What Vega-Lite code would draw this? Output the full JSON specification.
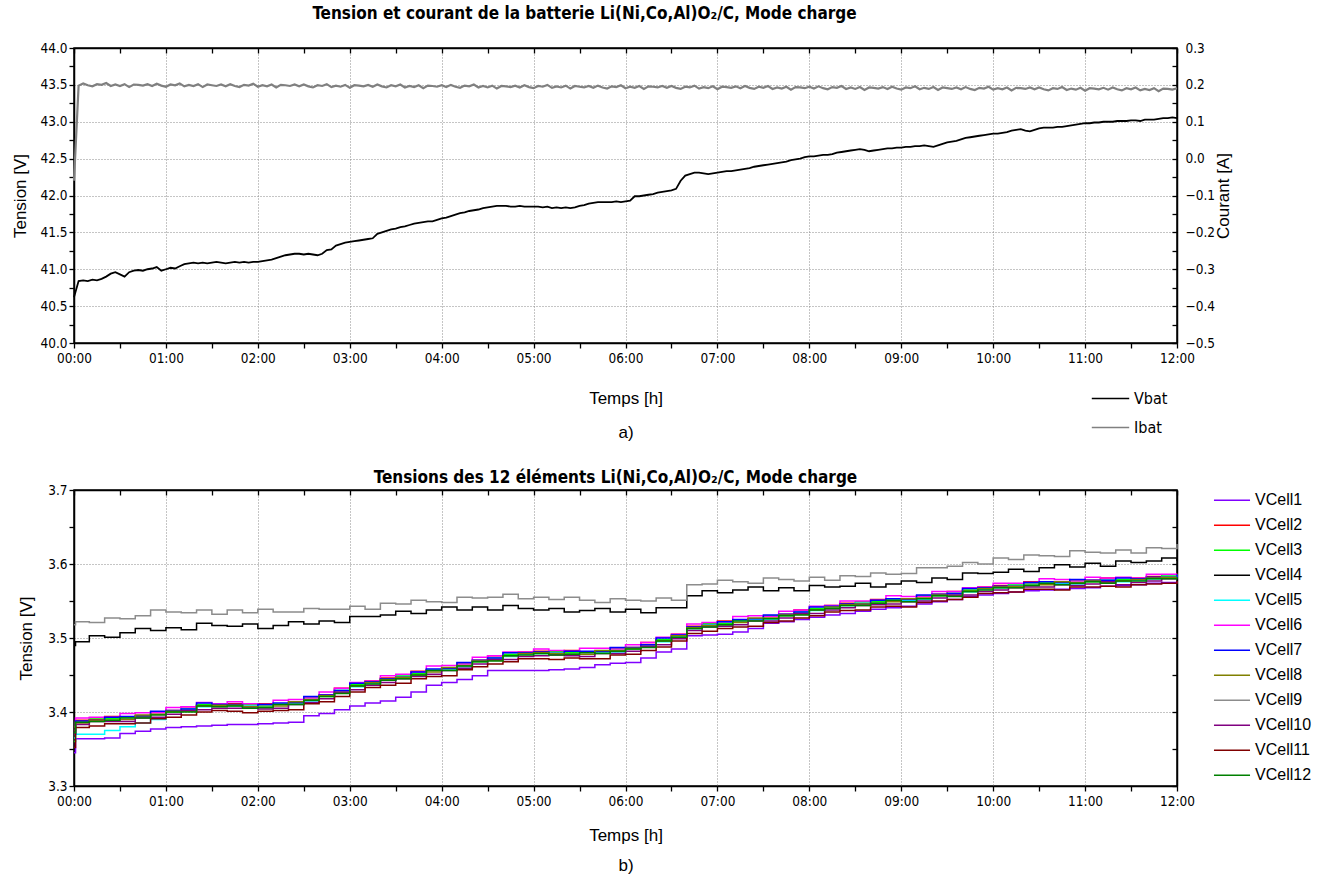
{
"$schema": "https://vega.github.io/schema/vega-lite/v6.json",
"padding": {"left": 11, "top": 4, "right": 5, "bottom": 3},
"background": "white",
"spacing": 26,
"resolve": {"scale": {"color": "independent"}, "legend": {"color": "independent"}},
"config": {
  "view": {"stroke": "black", "strokeWidth": 1.5},
  "axis": {"domainColor": "black", "domainWidth": 1.5, "tickColor": "black", "tickWidth": 1.3,
    "gridColor": "#8a8a8a", "gridDash": [1, 2], "gridWidth": 1,
    "labelFont": "Liberation Sans Narrow, DejaVu Sans Condensed, Liberation Sans", "labelFontSize": 13.5, "labelColor": "black",
    "titleFont": "Liberation Sans", "titleFontSize": 17, "titleFontWeight": "normal", "titleColor": "black",
    "labelOverlap": false, "labelFlush": false},
  "legend": {"labelFont": "Liberation Sans", "labelFontSize": 16, "labelColor": "black", "symbolType": "stroke", "symbolStrokeWidth": 1.5, "title": null},
  "title": {"font": "Liberation Sans Narrow, DejaVu Sans Condensed, Liberation Sans", "fontSize": 17, "fontWeight": "bold", "color": "black"}
},
"datasets": {
"bat": [
{"m":0,"Vbat":40.62,"Ibat":-0.06},{"m":3,"Vbat":40.84,"Ibat":0.198},{"m":6,"Vbat":40.85,"Ibat":0.204},{"m":9,"Vbat":40.84,"Ibat":0.199},{"m":12,"Vbat":40.86,"Ibat":0.196},{"m":15,"Vbat":40.85,"Ibat":0.202},{"m":18,"Vbat":40.87,"Ibat":0.2},{"m":21,"Vbat":40.9,"Ibat":0.205},{"m":24,"Vbat":40.94,"Ibat":0.197},{"m":27,"Vbat":40.96,"Ibat":0.201},
{"m":30,"Vbat":40.93,"Ibat":0.197},{"m":33,"Vbat":40.9,"Ibat":0.202},{"m":36,"Vbat":40.96,"Ibat":0.194},{"m":39,"Vbat":40.98,"Ibat":0.201},{"m":42,"Vbat":40.99,"Ibat":0.2},{"m":45,"Vbat":40.98,"Ibat":0.198},{"m":48,"Vbat":41.0,"Ibat":0.202},{"m":51,"Vbat":41.01,"Ibat":0.197},{"m":54,"Vbat":41.03,"Ibat":0.203},{"m":57,"Vbat":40.98,"Ibat":0.198},
{"m":60,"Vbat":41.0,"Ibat":0.195},{"m":63,"Vbat":41.02,"Ibat":0.201},{"m":66,"Vbat":41.01,"Ibat":0.199},{"m":69,"Vbat":41.04,"Ibat":0.204},{"m":72,"Vbat":41.07,"Ibat":0.196},{"m":75,"Vbat":41.08,"Ibat":0.2},{"m":78,"Vbat":41.09,"Ibat":0.197},{"m":81,"Vbat":41.08,"Ibat":0.202},{"m":84,"Vbat":41.09,"Ibat":0.194},{"m":87,"Vbat":41.08,"Ibat":0.201},
{"m":90,"Vbat":41.09,"Ibat":0.199},{"m":93,"Vbat":41.1,"Ibat":0.197},{"m":96,"Vbat":41.09,"Ibat":0.201},{"m":99,"Vbat":41.08,"Ibat":0.196},{"m":102,"Vbat":41.09,"Ibat":0.202},{"m":105,"Vbat":41.1,"Ibat":0.197},{"m":108,"Vbat":41.09,"Ibat":0.194},{"m":111,"Vbat":41.1,"Ibat":0.2},{"m":114,"Vbat":41.09,"Ibat":0.198},{"m":117,"Vbat":41.1,"Ibat":0.203},
{"m":120,"Vbat":41.1,"Ibat":0.195},{"m":123,"Vbat":41.11,"Ibat":0.199},{"m":126,"Vbat":41.12,"Ibat":0.196},{"m":129,"Vbat":41.13,"Ibat":0.201},{"m":132,"Vbat":41.15,"Ibat":0.193},{"m":135,"Vbat":41.17,"Ibat":0.2},{"m":138,"Vbat":41.19,"Ibat":0.199},{"m":141,"Vbat":41.2,"Ibat":0.197},{"m":144,"Vbat":41.21,"Ibat":0.201},{"m":147,"Vbat":41.21,"Ibat":0.196},
{"m":150,"Vbat":41.2,"Ibat":0.201},{"m":153,"Vbat":41.21,"Ibat":0.196},{"m":156,"Vbat":41.2,"Ibat":0.193},{"m":159,"Vbat":41.19,"Ibat":0.199},{"m":162,"Vbat":41.21,"Ibat":0.197},{"m":165,"Vbat":41.26,"Ibat":0.202},{"m":168,"Vbat":41.27,"Ibat":0.194},{"m":171,"Vbat":41.32,"Ibat":0.198},{"m":174,"Vbat":41.34,"Ibat":0.195},{"m":177,"Vbat":41.36,"Ibat":0.2},
{"m":180,"Vbat":41.37,"Ibat":0.192},{"m":183,"Vbat":41.38,"Ibat":0.199},{"m":186,"Vbat":41.39,"Ibat":0.198},{"m":189,"Vbat":41.4,"Ibat":0.196},{"m":192,"Vbat":41.41,"Ibat":0.2},{"m":195,"Vbat":41.42,"Ibat":0.195},{"m":198,"Vbat":41.48,"Ibat":0.201},{"m":201,"Vbat":41.5,"Ibat":0.196},{"m":204,"Vbat":41.52,"Ibat":0.193},{"m":207,"Vbat":41.54,"Ibat":0.199},
{"m":210,"Vbat":41.55,"Ibat":0.196},{"m":213,"Vbat":41.57,"Ibat":0.201},{"m":216,"Vbat":41.58,"Ibat":0.193},{"m":219,"Vbat":41.6,"Ibat":0.197},{"m":222,"Vbat":41.62,"Ibat":0.194},{"m":225,"Vbat":41.63,"Ibat":0.199},{"m":228,"Vbat":41.64,"Ibat":0.191},{"m":231,"Vbat":41.65,"Ibat":0.198},{"m":234,"Vbat":41.65,"Ibat":0.197},{"m":237,"Vbat":41.67,"Ibat":0.195},
{"m":240,"Vbat":41.69,"Ibat":0.199},{"m":243,"Vbat":41.7,"Ibat":0.194},{"m":246,"Vbat":41.72,"Ibat":0.2},{"m":249,"Vbat":41.74,"Ibat":0.195},{"m":252,"Vbat":41.76,"Ibat":0.192},{"m":255,"Vbat":41.77,"Ibat":0.198},{"m":258,"Vbat":41.79,"Ibat":0.196},{"m":261,"Vbat":41.8,"Ibat":0.201},{"m":264,"Vbat":41.81,"Ibat":0.193},{"m":267,"Vbat":41.83,"Ibat":0.197},
{"m":270,"Vbat":41.84,"Ibat":0.193},{"m":273,"Vbat":41.85,"Ibat":0.198},{"m":276,"Vbat":41.86,"Ibat":0.19},{"m":279,"Vbat":41.86,"Ibat":0.197},{"m":282,"Vbat":41.86,"Ibat":0.196},{"m":285,"Vbat":41.85,"Ibat":0.194},{"m":288,"Vbat":41.85,"Ibat":0.198},{"m":291,"Vbat":41.86,"Ibat":0.193},{"m":294,"Vbat":41.85,"Ibat":0.199},{"m":297,"Vbat":41.85,"Ibat":0.194},
{"m":300,"Vbat":41.85,"Ibat":0.191},{"m":303,"Vbat":41.85,"Ibat":0.197},{"m":306,"Vbat":41.84,"Ibat":0.195},{"m":309,"Vbat":41.85,"Ibat":0.2},{"m":312,"Vbat":41.83,"Ibat":0.192},{"m":315,"Vbat":41.84,"Ibat":0.196},{"m":318,"Vbat":41.83,"Ibat":0.193},{"m":321,"Vbat":41.84,"Ibat":0.198},{"m":324,"Vbat":41.83,"Ibat":0.19},{"m":327,"Vbat":41.84,"Ibat":0.197},
{"m":330,"Vbat":41.86,"Ibat":0.195},{"m":333,"Vbat":41.87,"Ibat":0.193},{"m":336,"Vbat":41.89,"Ibat":0.197},{"m":339,"Vbat":41.9,"Ibat":0.192},{"m":342,"Vbat":41.91,"Ibat":0.198},{"m":345,"Vbat":41.91,"Ibat":0.193},{"m":348,"Vbat":41.91,"Ibat":0.19},{"m":351,"Vbat":41.91,"Ibat":0.196},{"m":354,"Vbat":41.92,"Ibat":0.194},{"m":357,"Vbat":41.91,"Ibat":0.199},
{"m":360,"Vbat":41.92,"Ibat":0.191},{"m":363,"Vbat":41.93,"Ibat":0.195},{"m":366,"Vbat":41.99,"Ibat":0.192},{"m":369,"Vbat":41.99,"Ibat":0.197},{"m":372,"Vbat":42.0,"Ibat":0.189},{"m":375,"Vbat":42.01,"Ibat":0.196},{"m":378,"Vbat":42.02,"Ibat":0.195},{"m":381,"Vbat":42.04,"Ibat":0.193},{"m":384,"Vbat":42.05,"Ibat":0.197},{"m":387,"Vbat":42.06,"Ibat":0.192},
{"m":390,"Vbat":42.07,"Ibat":0.197},{"m":393,"Vbat":42.09,"Ibat":0.192},{"m":396,"Vbat":42.2,"Ibat":0.189},{"m":399,"Vbat":42.27,"Ibat":0.195},{"m":402,"Vbat":42.29,"Ibat":0.193},{"m":405,"Vbat":42.31,"Ibat":0.198},{"m":408,"Vbat":42.31,"Ibat":0.19},{"m":411,"Vbat":42.3,"Ibat":0.194},{"m":414,"Vbat":42.29,"Ibat":0.191},{"m":417,"Vbat":42.3,"Ibat":0.196},
{"m":420,"Vbat":42.31,"Ibat":0.188},{"m":423,"Vbat":42.32,"Ibat":0.195},{"m":426,"Vbat":42.33,"Ibat":0.194},{"m":429,"Vbat":42.33,"Ibat":0.192},{"m":432,"Vbat":42.34,"Ibat":0.196},{"m":435,"Vbat":42.35,"Ibat":0.191},{"m":438,"Vbat":42.36,"Ibat":0.197},{"m":441,"Vbat":42.37,"Ibat":0.192},{"m":444,"Vbat":42.39,"Ibat":0.189},{"m":447,"Vbat":42.4,"Ibat":0.195},
{"m":450,"Vbat":42.41,"Ibat":0.192},{"m":453,"Vbat":42.42,"Ibat":0.197},{"m":456,"Vbat":42.43,"Ibat":0.189},{"m":459,"Vbat":42.44,"Ibat":0.193},{"m":462,"Vbat":42.45,"Ibat":0.19},{"m":465,"Vbat":42.46,"Ibat":0.195},{"m":468,"Vbat":42.48,"Ibat":0.187},{"m":471,"Vbat":42.49,"Ibat":0.194},{"m":474,"Vbat":42.5,"Ibat":0.193},{"m":477,"Vbat":42.52,"Ibat":0.191},
{"m":480,"Vbat":42.53,"Ibat":0.195},{"m":483,"Vbat":42.53,"Ibat":0.19},{"m":486,"Vbat":42.54,"Ibat":0.196},{"m":489,"Vbat":42.55,"Ibat":0.191},{"m":492,"Vbat":42.55,"Ibat":0.188},{"m":495,"Vbat":42.56,"Ibat":0.194},{"m":498,"Vbat":42.58,"Ibat":0.192},{"m":501,"Vbat":42.59,"Ibat":0.197},{"m":504,"Vbat":42.6,"Ibat":0.189},{"m":507,"Vbat":42.61,"Ibat":0.193},
{"m":510,"Vbat":42.62,"Ibat":0.189},{"m":513,"Vbat":42.63,"Ibat":0.194},{"m":516,"Vbat":42.62,"Ibat":0.186},{"m":519,"Vbat":42.6,"Ibat":0.193},{"m":522,"Vbat":42.61,"Ibat":0.192},{"m":525,"Vbat":42.62,"Ibat":0.19},{"m":528,"Vbat":42.63,"Ibat":0.194},{"m":531,"Vbat":42.64,"Ibat":0.189},{"m":534,"Vbat":42.64,"Ibat":0.195},{"m":537,"Vbat":42.65,"Ibat":0.19},
{"m":540,"Vbat":42.65,"Ibat":0.187},{"m":543,"Vbat":42.66,"Ibat":0.193},{"m":546,"Vbat":42.66,"Ibat":0.191},{"m":549,"Vbat":42.67,"Ibat":0.196},{"m":552,"Vbat":42.67,"Ibat":0.188},{"m":555,"Vbat":42.68,"Ibat":0.192},{"m":558,"Vbat":42.67,"Ibat":0.189},{"m":561,"Vbat":42.66,"Ibat":0.194},{"m":564,"Vbat":42.68,"Ibat":0.186},{"m":567,"Vbat":42.7,"Ibat":0.193},
{"m":570,"Vbat":42.72,"Ibat":0.191},{"m":573,"Vbat":42.73,"Ibat":0.189},{"m":576,"Vbat":42.74,"Ibat":0.193},{"m":579,"Vbat":42.76,"Ibat":0.188},{"m":582,"Vbat":42.78,"Ibat":0.194},{"m":585,"Vbat":42.79,"Ibat":0.189},{"m":588,"Vbat":42.8,"Ibat":0.186},{"m":591,"Vbat":42.81,"Ibat":0.192},{"m":594,"Vbat":42.82,"Ibat":0.19},{"m":597,"Vbat":42.83,"Ibat":0.195},
{"m":600,"Vbat":42.84,"Ibat":0.187},{"m":603,"Vbat":42.84,"Ibat":0.191},{"m":606,"Vbat":42.85,"Ibat":0.188},{"m":609,"Vbat":42.86,"Ibat":0.193},{"m":612,"Vbat":42.88,"Ibat":0.185},{"m":615,"Vbat":42.89,"Ibat":0.192},{"m":618,"Vbat":42.9,"Ibat":0.191},{"m":621,"Vbat":42.88,"Ibat":0.189},{"m":624,"Vbat":42.87,"Ibat":0.193},{"m":627,"Vbat":42.89,"Ibat":0.188},
{"m":630,"Vbat":42.91,"Ibat":0.193},{"m":633,"Vbat":42.92,"Ibat":0.188},{"m":636,"Vbat":42.92,"Ibat":0.185},{"m":639,"Vbat":42.92,"Ibat":0.191},{"m":642,"Vbat":42.93,"Ibat":0.189},{"m":645,"Vbat":42.93,"Ibat":0.194},{"m":648,"Vbat":42.94,"Ibat":0.186},{"m":651,"Vbat":42.95,"Ibat":0.19},{"m":654,"Vbat":42.96,"Ibat":0.187},{"m":657,"Vbat":42.97,"Ibat":0.192},
{"m":660,"Vbat":42.98,"Ibat":0.184},{"m":663,"Vbat":42.98,"Ibat":0.191},{"m":666,"Vbat":42.99,"Ibat":0.19},{"m":669,"Vbat":42.99,"Ibat":0.188},{"m":672,"Vbat":43.0,"Ibat":0.192},{"m":675,"Vbat":43.0,"Ibat":0.187},{"m":678,"Vbat":43.0,"Ibat":0.193},{"m":681,"Vbat":43.01,"Ibat":0.188},{"m":684,"Vbat":43.01,"Ibat":0.185},{"m":687,"Vbat":43.01,"Ibat":0.191},
{"m":690,"Vbat":43.02,"Ibat":0.188},{"m":693,"Vbat":43.02,"Ibat":0.193},{"m":696,"Vbat":43.01,"Ibat":0.185},{"m":699,"Vbat":43.03,"Ibat":0.189},{"m":702,"Vbat":43.03,"Ibat":0.186},{"m":705,"Vbat":43.03,"Ibat":0.191},{"m":708,"Vbat":43.04,"Ibat":0.183},{"m":711,"Vbat":43.05,"Ibat":0.19},{"m":714,"Vbat":43.05,"Ibat":0.189},{"m":717,"Vbat":43.06,"Ibat":0.187},
{"m":720,"Vbat":43.05,"Ibat":0.191}
],
"cells": [
{"m":0,"c1":3.345,"c2":3.375,"c3":3.36,"c4":3.49,"c5":3.365,"c6":3.38,"c7":3.37,"c8":3.38,"c9":3.518,"c10":3.37,"c11":3.352,"c12":3.372},
{"m":1,"c1":3.364,"c2":3.389,"c3":3.386,"c4":3.495,"c5":3.37,"c6":3.392,"c7":3.388,"c8":3.385,"c9":3.522,"c10":3.383,"c11":3.379,"c12":3.386},
{"m":10,"c1":3.364,"c2":3.39,"c3":3.392,"c4":3.503,"c5":3.37,"c6":3.393,"c7":3.389,"c8":3.389,"c9":3.521,"c10":3.387,"c11":3.381,"c12":3.387},
{"m":20,"c1":3.365,"c2":3.394,"c3":3.391,"c4":3.501,"c5":3.375,"c6":3.393,"c7":3.393,"c8":3.389,"c9":3.527,"c10":3.387,"c11":3.384,"c12":3.389},
{"m":30,"c1":3.371,"c2":3.393,"c3":3.393,"c4":3.507,"c5":3.38,"c6":3.398,"c7":3.394,"c8":3.39,"c9":3.526,"c10":3.387,"c11":3.384,"c12":3.392},
{"m":40,"c1":3.374,"c2":3.394,"c3":3.393,"c4":3.513,"c5":3.385,"c6":3.399,"c7":3.395,"c8":3.396,"c9":3.53,"c10":3.392,"c11":3.385,"c12":3.392},
{"m":50,"c1":3.377,"c2":3.4,"c3":3.4,"c4":3.51,"c5":3.39,"c6":3.399,"c7":3.401,"c8":3.397,"c9":3.538,"c10":3.393,"c11":3.391,"c12":3.396},
{"m":60,"c1":3.379,"c2":3.402,"c3":3.4,"c4":3.514,"c5":3.401,"c6":3.406,"c7":3.402,"c8":3.401,"c9":3.535,"c10":3.397,"c11":3.393,"c12":3.4},
{"m":70,"c1":3.38,"c2":3.407,"c3":3.404,"c4":3.511,"c5":3.404,"c6":3.407,"c7":3.404,"c8":3.401,"c9":3.534,"c10":3.402,"c11":3.396,"c12":3.4},
{"m":80,"c1":3.381,"c2":3.409,"c3":3.41,"c4":3.52,"c5":3.407,"c6":3.413,"c7":3.412,"c8":3.408,"c9":3.538,"c10":3.403,"c11":3.4,"c12":3.408},
{"m":90,"c1":3.382,"c2":3.411,"c3":3.408,"c4":3.517,"c5":3.408,"c6":3.411,"c7":3.41,"c8":3.409,"c9":3.532,"c10":3.405,"c11":3.402,"c12":3.407},
{"m":100,"c1":3.383,"c2":3.411,"c3":3.408,"c4":3.516,"c5":3.408,"c6":3.414,"c7":3.41,"c8":3.409,"c9":3.538,"c10":3.405,"c11":3.401,"c12":3.408},
{"m":110,"c1":3.383,"c2":3.408,"c3":3.41,"c4":3.519,"c5":3.408,"c6":3.411,"c7":3.407,"c8":3.407,"c9":3.534,"c10":3.405,"c11":3.399,"c12":3.405},
{"m":120,"c1":3.384,"c2":3.411,"c3":3.408,"c4":3.513,"c5":3.406,"c6":3.41,"c7":3.41,"c8":3.406,"c9":3.539,"c10":3.404,"c11":3.401,"c12":3.406},
{"m":130,"c1":3.385,"c2":3.411,"c3":3.411,"c4":3.517,"c5":3.411,"c6":3.416,"c7":3.412,"c8":3.408,"c9":3.535,"c10":3.405,"c11":3.402,"c12":3.41},
{"m":140,"c1":3.386,"c2":3.412,"c3":3.411,"c4":3.522,"c5":3.412,"c6":3.417,"c7":3.413,"c8":3.414,"c9":3.535,"c10":3.41,"c11":3.403,"c12":3.41},
{"m":150,"c1":3.395,"c2":3.42,"c3":3.42,"c4":3.519,"c5":3.415,"c6":3.419,"c7":3.421,"c8":3.417,"c9":3.54,"c10":3.413,"c11":3.411,"c12":3.416},
{"m":160,"c1":3.398,"c2":3.423,"c3":3.421,"c4":3.523,"c5":3.422,"c6":3.427,"c7":3.423,"c8":3.422,"c9":3.539,"c10":3.418,"c11":3.414,"c12":3.421},
{"m":170,"c1":3.403,"c2":3.432,"c3":3.429,"c4":3.521,"c5":3.429,"c6":3.432,"c7":3.429,"c8":3.426,"c9":3.539,"c10":3.427,"c11":3.421,"c12":3.425},
{"m":180,"c1":3.408,"c2":3.436,"c3":3.437,"c4":3.529,"c5":3.434,"c6":3.44,"c7":3.439,"c8":3.435,"c9":3.543,"c10":3.43,"c11":3.427,"c12":3.435},
{"m":190,"c1":3.412,"c2":3.442,"c3":3.439,"c4":3.529,"c5":3.439,"c6":3.442,"c7":3.441,"c8":3.44,"c9":3.539,"c10":3.436,"c11":3.433,"c12":3.438},
{"m":200,"c1":3.415,"c2":3.446,"c3":3.443,"c4":3.531,"c5":3.443,"c6":3.449,"c7":3.445,"c8":3.444,"c9":3.547,"c10":3.44,"c11":3.436,"c12":3.443},
{"m":210,"c1":3.42,"c2":3.448,"c3":3.45,"c4":3.536,"c5":3.448,"c6":3.451,"c7":3.447,"c8":3.447,"c9":3.546,"c10":3.445,"c11":3.439,"c12":3.445},
{"m":220,"c1":3.427,"c2":3.455,"c3":3.452,"c4":3.533,"c5":3.45,"c6":3.454,"c7":3.454,"c8":3.45,"c9":3.551,"c10":3.448,"c11":3.445,"c12":3.45},
{"m":230,"c1":3.436,"c2":3.457,"c3":3.457,"c4":3.538,"c5":3.457,"c6":3.462,"c7":3.458,"c8":3.454,"c9":3.549,"c10":3.451,"c11":3.448,"c12":3.456},
{"m":240,"c1":3.44,"c2":3.458,"c3":3.457,"c4":3.542,"c5":3.458,"c6":3.463,"c7":3.459,"c8":3.46,"c9":3.548,"c10":3.456,"c11":3.449,"c12":3.456},
{"m":250,"c1":3.444,"c2":3.466,"c3":3.466,"c4":3.538,"c5":3.461,"c6":3.465,"c7":3.467,"c8":3.463,"c9":3.555,"c10":3.459,"c11":3.457,"c12":3.462},
{"m":260,"c1":3.449,"c2":3.47,"c3":3.468,"c4":3.542,"c5":3.469,"c6":3.474,"c7":3.47,"c8":3.469,"c9":3.554,"c10":3.465,"c11":3.461,"c12":3.468},
{"m":270,"c1":3.456,"c2":3.476,"c3":3.473,"c4":3.538,"c5":3.473,"c6":3.476,"c7":3.473,"c8":3.47,"c9":3.555,"c10":3.471,"c11":3.465,"c12":3.469},
{"m":280,"c1":3.456,"c2":3.477,"c3":3.478,"c4":3.544,"c5":3.475,"c6":3.481,"c7":3.48,"c8":3.476,"c9":3.559,"c10":3.471,"c11":3.468,"c12":3.476},
{"m":290,"c1":3.456,"c2":3.481,"c3":3.478,"c4":3.54,"c5":3.478,"c6":3.481,"c7":3.48,"c8":3.479,"c9":3.553,"c10":3.475,"c11":3.472,"c12":3.477},
{"m":300,"c1":3.456,"c2":3.482,"c3":3.479,"c4":3.538,"c5":3.479,"c6":3.485,"c7":3.481,"c8":3.48,"c9":3.555,"c10":3.476,"c11":3.472,"c12":3.479},
{"m":310,"c1":3.457,"c2":3.48,"c3":3.482,"c4":3.54,"c5":3.48,"c6":3.483,"c7":3.479,"c8":3.479,"c9":3.552,"c10":3.477,"c11":3.471,"c12":3.477},
{"m":320,"c1":3.458,"c2":3.483,"c3":3.48,"c4":3.535,"c5":3.478,"c6":3.482,"c7":3.482,"c8":3.478,"c9":3.555,"c10":3.476,"c11":3.473,"c12":3.478},
{"m":330,"c1":3.46,"c2":3.481,"c3":3.481,"c4":3.537,"c5":3.481,"c6":3.486,"c7":3.482,"c8":3.478,"c9":3.551,"c10":3.475,"c11":3.472,"c12":3.48},
{"m":340,"c1":3.464,"c2":3.481,"c3":3.48,"c4":3.54,"c5":3.481,"c6":3.486,"c7":3.482,"c8":3.483,"c9":3.548,"c10":3.479,"c11":3.472,"c12":3.479},
{"m":350,"c1":3.466,"c2":3.486,"c3":3.486,"c4":3.535,"c5":3.481,"c6":3.485,"c7":3.487,"c8":3.483,"c9":3.553,"c10":3.479,"c11":3.477,"c12":3.482},
{"m":360,"c1":3.467,"c2":3.487,"c3":3.485,"c4":3.539,"c5":3.486,"c6":3.491,"c7":3.487,"c8":3.486,"c9":3.551,"c10":3.482,"c11":3.478,"c12":3.485},
{"m":370,"c1":3.473,"c2":3.494,"c3":3.491,"c4":3.534,"c5":3.491,"c6":3.494,"c7":3.491,"c8":3.488,"c9":3.55,"c10":3.489,"c11":3.483,"c12":3.487},
{"m":380,"c1":3.481,"c2":3.497,"c3":3.498,"c4":3.541,"c5":3.495,"c6":3.501,"c7":3.5,"c8":3.496,"c9":3.554,"c10":3.491,"c11":3.488,"c12":3.496},
{"m":390,"c1":3.485,"c2":3.505,"c3":3.502,"c4":3.541,"c5":3.502,"c6":3.505,"c7":3.504,"c8":3.503,"c9":3.551,"c10":3.499,"c11":3.496,"c12":3.501},
{"m":400,"c1":3.503,"c2":3.516,"c3":3.513,"c4":3.557,"c5":3.513,"c6":3.519,"c7":3.515,"c8":3.514,"c9":3.572,"c10":3.51,"c11":3.506,"c12":3.513},
{"m":410,"c1":3.504,"c2":3.518,"c3":3.52,"c4":3.564,"c5":3.518,"c6":3.521,"c7":3.517,"c8":3.517,"c9":3.573,"c10":3.515,"c11":3.509,"c12":3.515},
{"m":420,"c1":3.505,"c2":3.523,"c3":3.52,"c4":3.561,"c5":3.518,"c6":3.522,"c7":3.522,"c8":3.518,"c9":3.578,"c10":3.516,"c11":3.513,"c12":3.518},
{"m":430,"c1":3.508,"c2":3.524,"c3":3.524,"c4":3.565,"c5":3.524,"c6":3.529,"c7":3.525,"c8":3.521,"c9":3.576,"c10":3.518,"c11":3.515,"c12":3.523},
{"m":440,"c1":3.513,"c2":3.525,"c3":3.524,"c4":3.569,"c5":3.525,"c6":3.53,"c7":3.526,"c8":3.527,"c9":3.574,"c10":3.523,"c11":3.516,"c12":3.523},
{"m":450,"c1":3.52,"c2":3.53,"c3":3.53,"c4":3.564,"c5":3.525,"c6":3.529,"c7":3.531,"c8":3.527,"c9":3.581,"c10":3.523,"c11":3.521,"c12":3.526},
{"m":460,"c1":3.522,"c2":3.532,"c3":3.53,"c4":3.568,"c5":3.531,"c6":3.536,"c7":3.532,"c8":3.531,"c9":3.579,"c10":3.527,"c11":3.523,"c12":3.53},
{"m":470,"c1":3.525,"c2":3.538,"c3":3.535,"c4":3.564,"c5":3.535,"c6":3.538,"c7":3.535,"c8":3.532,"c9":3.577,"c10":3.533,"c11":3.527,"c12":3.531},
{"m":480,"c1":3.528,"c2":3.539,"c3":3.54,"c4":3.571,"c5":3.537,"c6":3.543,"c7":3.542,"c8":3.538,"c9":3.582,"c10":3.533,"c11":3.53,"c12":3.538},
{"m":490,"c1":3.531,"c2":3.544,"c3":3.541,"c4":3.569,"c5":3.541,"c6":3.544,"c7":3.543,"c8":3.542,"c9":3.578,"c10":3.538,"c11":3.535,"c12":3.54},
{"m":500,"c1":3.533,"c2":3.547,"c3":3.544,"c4":3.57,"c5":3.544,"c6":3.55,"c7":3.546,"c8":3.545,"c9":3.584,"c10":3.541,"c11":3.537,"c12":3.544},
{"m":510,"c1":3.536,"c2":3.547,"c3":3.549,"c4":3.574,"c5":3.547,"c6":3.55,"c7":3.546,"c8":3.546,"c9":3.583,"c10":3.544,"c11":3.538,"c12":3.544},
{"m":520,"c1":3.539,"c2":3.552,"c3":3.549,"c4":3.569,"c5":3.547,"c6":3.551,"c7":3.551,"c8":3.547,"c9":3.588,"c10":3.545,"c11":3.542,"c12":3.547},
{"m":530,"c1":3.541,"c2":3.552,"c3":3.552,"c4":3.573,"c5":3.552,"c6":3.557,"c7":3.553,"c8":3.549,"c9":3.586,"c10":3.546,"c11":3.543,"c12":3.551},
{"m":540,"c1":3.543,"c2":3.551,"c3":3.55,"c4":3.577,"c5":3.551,"c6":3.556,"c7":3.552,"c8":3.553,"c9":3.587,"c10":3.549,"c11":3.542,"c12":3.549},
{"m":550,"c1":3.546,"c2":3.557,"c3":3.557,"c4":3.575,"c5":3.552,"c6":3.556,"c7":3.558,"c8":3.554,"c9":3.595,"c10":3.55,"c11":3.548,"c12":3.553},
{"m":560,"c1":3.549,"c2":3.559,"c3":3.557,"c4":3.581,"c5":3.558,"c6":3.563,"c7":3.559,"c8":3.558,"c9":3.595,"c10":3.554,"c11":3.55,"c12":3.557},
{"m":570,"c1":3.552,"c2":3.563,"c3":3.56,"c4":3.579,"c5":3.56,"c6":3.563,"c7":3.56,"c8":3.557,"c9":3.597,"c10":3.558,"c11":3.552,"c12":3.556},
{"m":580,"c1":3.556,"c2":3.564,"c3":3.565,"c4":3.588,"c5":3.562,"c6":3.568,"c7":3.567,"c8":3.563,"c9":3.602,"c10":3.558,"c11":3.555,"c12":3.563},
{"m":590,"c1":3.558,"c2":3.569,"c3":3.566,"c4":3.587,"c5":3.566,"c6":3.569,"c7":3.568,"c8":3.567,"c9":3.6,"c10":3.563,"c11":3.56,"c12":3.565},
{"m":600,"c1":3.56,"c2":3.571,"c3":3.568,"c4":3.589,"c5":3.568,"c6":3.574,"c7":3.57,"c8":3.569,"c9":3.608,"c10":3.565,"c11":3.561,"c12":3.568},
{"m":610,"c1":3.562,"c2":3.571,"c3":3.573,"c4":3.593,"c5":3.571,"c6":3.574,"c7":3.57,"c8":3.57,"c9":3.606,"c10":3.568,"c11":3.562,"c12":3.568},
{"m":620,"c1":3.564,"c2":3.576,"c3":3.573,"c4":3.59,"c5":3.571,"c6":3.575,"c7":3.575,"c8":3.571,"c9":3.612,"c10":3.569,"c11":3.566,"c12":3.571},
{"m":630,"c1":3.565,"c2":3.575,"c3":3.575,"c4":3.595,"c5":3.575,"c6":3.58,"c7":3.576,"c8":3.572,"c9":3.611,"c10":3.569,"c11":3.566,"c12":3.574},
{"m":640,"c1":3.566,"c2":3.574,"c3":3.573,"c4":3.599,"c5":3.574,"c6":3.579,"c7":3.575,"c8":3.576,"c9":3.61,"c10":3.572,"c11":3.565,"c12":3.572},
{"m":650,"c1":3.567,"c2":3.578,"c3":3.578,"c4":3.596,"c5":3.573,"c6":3.577,"c7":3.579,"c8":3.575,"c9":3.618,"c10":3.571,"c11":3.569,"c12":3.574},
{"m":660,"c1":3.568,"c2":3.578,"c3":3.576,"c4":3.601,"c5":3.577,"c6":3.582,"c7":3.578,"c8":3.577,"c9":3.616,"c10":3.573,"c11":3.569,"c12":3.576},
{"m":670,"c1":3.57,"c2":3.581,"c3":3.578,"c4":3.597,"c5":3.578,"c6":3.581,"c7":3.578,"c8":3.575,"c9":3.615,"c10":3.576,"c11":3.57,"c12":3.574},
{"m":680,"c1":3.571,"c2":3.578,"c3":3.579,"c4":3.604,"c5":3.576,"c6":3.582,"c7":3.581,"c8":3.577,"c9":3.619,"c10":3.572,"c11":3.569,"c12":3.577},
{"m":690,"c1":3.572,"c2":3.581,"c3":3.578,"c4":3.602,"c5":3.578,"c6":3.581,"c7":3.58,"c8":3.579,"c9":3.615,"c10":3.575,"c11":3.572,"c12":3.577},
{"m":700,"c1":3.574,"c2":3.583,"c3":3.58,"c4":3.604,"c5":3.58,"c6":3.586,"c7":3.582,"c8":3.581,"c9":3.622,"c10":3.577,"c11":3.573,"c12":3.58},
{"m":710,"c1":3.575,"c2":3.583,"c3":3.585,"c4":3.608,"c5":3.583,"c6":3.586,"c7":3.582,"c8":3.582,"c9":3.621,"c10":3.58,"c11":3.574,"c12":3.58},
{"m":720,"c1":3.576,"c2":3.587,"c3":3.584,"c4":3.604,"c5":3.582,"c6":3.586,"c7":3.586,"c8":3.582,"c9":3.627,"c10":3.58,"c11":3.577,"c12":3.582}
]
},
"vconcat": [
{
  "width": 1103, "height": 295,
  "title": {"text": "Tension et courant de la batterie Li(Ni,Co,Al)O₂/C, Mode charge", "anchor": "middle", "dx": -41, "offset": 18},
  "data": {"name": "bat"},
  "transform": [{"fold": ["Vbat", "Ibat"], "as": ["s", "val"]}],
  "layer": [
    {
      "transform": [{"filter": "datum.s === 'Ibat'"}],
      "mark": {"type": "line", "strokeWidth": 2.2},
      "encoding": {
        "x": {"field": "m", "type": "quantitative", "scale": {"domain": [0, 720], "nice": false, "zero": false},
          "axis": {"orient": "top", "values": [0,30,60,90,120,150,180,210,240,270,300,330,360,390,420,450,480,510,540,570,600,630,660,690,720], "labels": false, "grid": false, "tickSize": -5, "title": null}},
        "y": {"field": "val", "type": "quantitative", "scale": {"domain": [-0.5, 0.3], "nice": false, "zero": false},
          "axis": {"orient": "right", "values": [-0.5,-0.45,-0.4,-0.35,-0.3,-0.25,-0.2,-0.15,-0.1,-0.05,0,0.05,0.1,0.15,0.2,0.25,0.3],
            "labelExpr": "abs(datum.value*10 - round(datum.value*10)) < 0.01 ? format(datum.value, '.1f') : ''",
            "grid": false, "tickSize": -5, "labelPadding": 13, "title": "Courant [A]", "titleAngle": 270, "titlePadding": 18}},
        "color": {"field": "s", "type": "nominal", "scale": {"domain": ["Vbat", "Ibat"], "range": ["#000000", "#808080"]},
          "legend": {"orient": "none", "legendX": 1017, "legendY": 331, "symbolSize": 1400, "labelFont": "Liberation Sans Narrow, DejaVu Sans Condensed, Liberation Sans", "labelFontSize": 16, "rowPadding": 1}}
      }
    },
    {
      "transform": [{"filter": "datum.s === 'Vbat'"}],
      "mark": {"type": "line", "strokeWidth": 1.8},
      "encoding": {
        "x": {"field": "m", "type": "quantitative", "scale": {"domain": [0, 720], "nice": false, "zero": false},
          "axis": {"orient": "bottom", "values": [0,30,60,90,120,150,180,210,240,270,300,330,360,390,420,450,480,510,540,570,600,630,660,690,720],
            "labelExpr": "datum.value % 60 === 0 ? ((datum.value < 600 ? '0' : '') + (datum.value/60) + ':00') : ''",
            "grid": true,
            "gridOpacity": {"condition": {"test": "datum.value % 60 === 0", "value": 1}, "value": 0},
            "tickSize": 5, "labelPadding": 3, "title": ["Temps [h]", "a)"], "titlePadding": 26, "titleLineHeight": 34}},
        "y": {"field": "val", "type": "quantitative", "scale": {"domain": [40, 44], "nice": false, "zero": false},
          "axis": {"values": [40,40.25,40.5,40.75,41,41.25,41.5,41.75,42,42.25,42.5,42.75,43,43.25,43.5,43.75,44],
            "labelExpr": "abs(datum.value*2 - round(datum.value*2)) < 0.01 ? format(datum.value, '.1f') : ''",
            "grid": true,
            "gridOpacity": {"condition": {"test": "abs(datum.value*2 - round(datum.value*2)) < 0.01", "value": 1}, "value": 0},
            "tickSize": 5, "labelPadding": 2, "title": "Tension [V]", "titlePadding": 10}},
        "color": {"field": "s", "type": "nominal"}
      }
    }
  ],
  "resolve": {"scale": {"y": "independent"}, "axis": {"x": "independent", "y": "independent"}}
},
{
  "width": 1103, "height": 296,
  "title": {"text": "Tensions des 12 éléments Li(Ni,Co,Al)O₂/C, Mode charge", "anchor": "middle", "dx": -10, "offset": -4},
  "data": {"name": "cells"},
  "transform": [{"fold": ["c1","c2","c3","c4","c5","c6","c7","c8","c9","c10","c11","c12"], "as": ["cell", "v"]}],
  "layer": [
    {
      "mark": {"type": "line", "interpolate": "step-after", "strokeWidth": 1.5},
      "encoding": {
        "x": {"field": "m", "type": "quantitative", "scale": {"domain": [0, 720], "nice": false, "zero": false},
          "axis": {"orient": "bottom", "values": [0,30,60,90,120,150,180,210,240,270,300,330,360,390,420,450,480,510,540,570,600,630,660,690,720],
            "labelExpr": "datum.value % 60 === 0 ? ((datum.value < 600 ? '0' : '') + (datum.value/60) + ':00') : ''",
            "grid": true,
            "gridOpacity": {"condition": {"test": "datum.value % 60 === 0", "value": 1}, "value": 0},
            "tickSize": 5, "labelPadding": 3, "title": ["Temps [h]", "b)"], "titlePadding": 20, "titleLineHeight": 30}},
        "y": {"field": "v", "type": "quantitative", "scale": {"domain": [3.3, 3.7], "nice": false, "zero": false},
          "axis": {"values": [3.3,3.35,3.4,3.45,3.5,3.55,3.6,3.65,3.7],
            "labelExpr": "abs(datum.value*10 - round(datum.value*10)) < 0.01 ? format(datum.value, '.1f') : ''",
            "grid": true,
            "gridOpacity": {"condition": {"test": "abs(datum.value*10 - round(datum.value*10)) < 0.01", "value": 1}, "value": 0},
            "tickSize": 5, "labelPadding": 2, "title": "Tension [V]", "titlePadding": 12}},
        "color": {"field": "cell", "type": "nominal",
          "scale": {"domain": ["c1","c2","c3","c4","c5","c6","c7","c8","c9","c10","c11","c12"],
            "range": ["#8000ff","#ff0000","#00ff00","#000000","#00ffff","#ff00ff","#0000ff","#808000","#8c8c8c","#800080","#800000","#008000"]},
          "legend": {"orient": "none", "legendX": 1139, "legendY": -2, "labelExpr": "'VCell' + slice(datum.label, 1)", "symbolSize": 1300, "rowPadding": 0, "clipHeight": 24.6}}
      }
    },
    {
      "mark": {"type": "line", "opacity": 0},
      "encoding": {
        "x": {"field": "m", "type": "quantitative",
          "axis": {"orient": "top", "values": [0,30,60,90,120,150,180,210,240,270,300,330,360,390,420,450,480,510,540,570,600,630,660,690,720], "labels": false, "grid": false, "tickSize": -5, "title": null}},
        "y": {"field": "v", "type": "quantitative",
          "axis": {"orient": "right", "values": [3.3,3.35,3.4,3.45,3.5,3.55,3.6,3.65,3.7], "labels": false, "grid": false, "tickSize": -5, "title": null}},
        "detail": {"field": "cell"}
      }
    }
  ],
  "resolve": {"axis": {"x": "independent", "y": "independent"}}
}
]
}
